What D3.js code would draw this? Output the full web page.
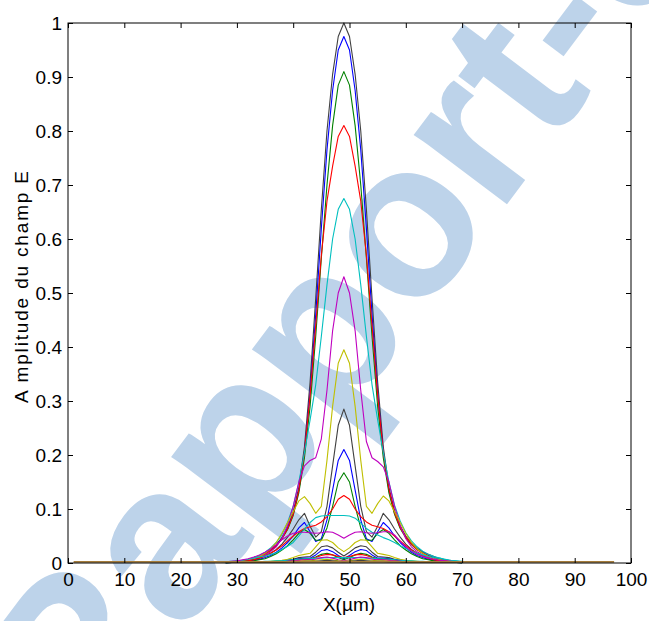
<!DOCTYPE html>
<html><head><meta charset="utf-8">
<script src="https://cdn.jsdelivr.net/npm/d3@7"></script>
<style>
html,body{margin:0;padding:0;background:#fff;}
svg{display:block;}
.lbl{font-family:"Liberation Sans Narrow","Arial Narrow","Liberation Sans",Arial,sans-serif;font-size:19px;fill:#000;}
</style></head>
<body><svg id="c" width="649" height="621"></svg>
<script>
// ---- data ----
const X = [28,29,30,31,32,33,34,35,36,37,38,39,40,41,42,43,44,45,46,47,48,49,50,51,52,53,54,55,56,57,58,59,60,61,62,63,64,65,66,67,68,69,70];
const xTicks = [0,10,20,30,40,50,60,70,80,90,100];
const yTicks = [0,0.1,0.2,0.3,0.4,0.5,0.6,0.7,0.8,0.9,1];
const yTickLabels = ["0","0.1","0.2","0.3","0.4","0.5","0.6","0.7","0.8","0.9","1"];
const s01 = [0.001,0.002,0.003,0.004,0.006,0.009,0.013,0.018,0.025,0.034,0.047,0.066,0.095,0.14,0.215,0.335,0.49,0.655,0.80,0.905,0.975,1.000,0.975,0.905,0.80,0.655,0.49,0.335,0.215,0.14,0.097,0.069,0.05,0.037,0.028,0.021,0.016,0.012,0.008,0.006,0.004,0.003,0.002];
const s02 = [0.001,0.002,0.003,0.004,0.006,0.008,0.012,0.017,0.024,0.033,0.046,0.064,0.092,0.135,0.205,0.315,0.46,0.62,0.765,0.875,0.95,0.975,0.95,0.875,0.765,0.62,0.46,0.315,0.205,0.135,0.093,0.066,0.048,0.035,0.026,0.019,0.014,0.01,0.007,0.005,0.003,0.002,0.001];
const s03 = [0.001,0.001,0.002,0.004,0.005,0.008,0.012,0.017,0.023,0.032,0.045,0.062,0.088,0.13,0.195,0.29,0.42,0.565,0.70,0.81,0.885,0.91,0.885,0.81,0.70,0.565,0.42,0.29,0.195,0.13,0.09,0.064,0.047,0.034,0.025,0.018,0.013,0.009,0.006,0.004,0.003,0.002,0.001];
const s04 = [0.001,0.001,0.002,0.003,0.005,0.008,0.011,0.016,0.023,0.032,0.045,0.063,0.09,0.135,0.205,0.31,0.44,0.57,0.67,0.735,0.79,0.81,0.79,0.735,0.67,0.57,0.44,0.31,0.205,0.137,0.093,0.066,0.048,0.035,0.025,0.018,0.013,0.009,0.006,0.004,0.003,0.002,0.001];
const s05 = [0.001,0.002,0.003,0.005,0.007,0.01,0.014,0.02,0.028,0.038,0.053,0.075,0.105,0.15,0.205,0.265,0.33,0.42,0.515,0.6,0.655,0.675,0.655,0.6,0.515,0.42,0.33,0.265,0.205,0.15,0.107,0.078,0.056,0.041,0.03,0.022,0.016,0.012,0.009,0.006,0.004,0.003,0.002];
const s06 = [0.001,0.002,0.003,0.004,0.006,0.008,0.011,0.015,0.021,0.03,0.045,0.07,0.105,0.15,0.18,0.19,0.195,0.23,0.32,0.43,0.50,0.53,0.50,0.43,0.32,0.225,0.195,0.188,0.178,0.15,0.105,0.07,0.045,0.03,0.021,0.015,0.011,0.008,0.006,0.004,0.003,0.002,0.001];
const s07 = [0.001,0.002,0.003,0.004,0.006,0.008,0.012,0.018,0.026,0.038,0.055,0.075,0.095,0.115,0.123,0.11,0.092,0.105,0.19,0.29,0.37,0.395,0.37,0.29,0.19,0.105,0.092,0.11,0.124,0.115,0.095,0.075,0.055,0.038,0.026,0.018,0.012,0.008,0.006,0.004,0.003,0.002,0.001];
const s08 = [0.001,0.001,0.002,0.003,0.004,0.006,0.009,0.013,0.018,0.025,0.035,0.048,0.063,0.08,0.092,0.068,0.048,0.058,0.105,0.18,0.255,0.285,0.255,0.18,0.105,0.058,0.048,0.068,0.092,0.08,0.063,0.048,0.035,0.025,0.018,0.013,0.009,0.006,0.004,0.003,0.002,0.001,0.001];
const s09 = [0,0.001,0.001,0.002,0.003,0.005,0.007,0.01,0.014,0.02,0.028,0.038,0.05,0.065,0.075,0.058,0.04,0.045,0.08,0.135,0.19,0.21,0.19,0.135,0.08,0.045,0.04,0.058,0.075,0.065,0.05,0.038,0.028,0.02,0.014,0.01,0.007,0.005,0.003,0.002,0.001,0.001,0];
const s10 = [0,0.001,0.001,0.002,0.003,0.004,0.006,0.008,0.012,0.017,0.024,0.032,0.043,0.055,0.062,0.055,0.042,0.042,0.065,0.105,0.15,0.167,0.15,0.105,0.065,0.042,0.042,0.055,0.062,0.055,0.043,0.032,0.024,0.017,0.012,0.008,0.006,0.004,0.003,0.002,0.001,0.001,0];
const s11 = [0.001,0.001,0.002,0.003,0.004,0.006,0.009,0.013,0.018,0.024,0.032,0.041,0.05,0.058,0.064,0.067,0.07,0.076,0.086,0.1,0.118,0.125,0.118,0.1,0.086,0.076,0.07,0.067,0.064,0.058,0.05,0.041,0.032,0.024,0.018,0.013,0.009,0.006,0.004,0.003,0.002,0.001,0.001];
const s12 = [0.002,0.003,0.004,0.005,0.007,0.009,0.011,0.013,0.016,0.019,0.025,0.031,0.038,0.05,0.063,0.075,0.084,0.087,0.088,0.088,0.088,0.088,0.087,0.083,0.074,0.064,0.057,0.052,0.047,0.043,0.038,0.032,0.027,0.022,0.018,0.015,0.012,0.01,0.009,0.007,0.005,0.004,0.003];
const s13 = [0.002,0.003,0.004,0.006,0.008,0.011,0.015,0.02,0.026,0.034,0.043,0.05,0.055,0.057,0.057,0.056,0.055,0.056,0.058,0.057,0.052,0.046,0.052,0.057,0.058,0.056,0.055,0.056,0.058,0.058,0.052,0.04,0.03,0.022,0.016,0.012,0.009,0.007,0.005,0.004,0.003,0.002,0.001];
const s14 = [0.001,0.001,0.001,0.001,0.001,0.001,0.002,0.002,0.003,0.004,0.005,0.007,0.01,0.014,0.016,0.018,0.03,0.042,0.043,0.038,0.028,0.021,0.028,0.038,0.043,0.042,0.03,0.018,0.016,0.014,0.01,0.007,0.005,0.004,0.003,0.002,0.002,0.001,0.001,0.001,0.001,0.001,0.001];
const s15 = [0.001,0.001,0.001,0.001,0.001,0.001,0.001,0.001,0.002,0.002,0.003,0.005,0.007,0.01,0.011,0.012,0.02,0.03,0.032,0.028,0.02,0.013,0.02,0.028,0.032,0.03,0.02,0.012,0.011,0.01,0.007,0.005,0.003,0.002,0.002,0.001,0.001,0.001,0.001,0.001,0.001,0.001,0.001];
const s16 = [0.001,0.001,0.001,0.001,0.001,0.001,0.001,0.001,0.001,0.002,0.003,0.004,0.006,0.008,0.009,0.009,0.015,0.023,0.025,0.021,0.014,0.008,0.014,0.021,0.025,0.023,0.015,0.009,0.009,0.008,0.006,0.004,0.003,0.002,0.001,0.001,0.001,0.001,0.001,0.001,0.001,0.001,0.001];
const s17 = [0.001,0.001,0.001,0.001,0.001,0.001,0.001,0.001,0.001,0.001,0.002,0.003,0.005,0.007,0.008,0.008,0.011,0.016,0.018,0.015,0.01,0.006,0.01,0.015,0.018,0.016,0.011,0.008,0.008,0.007,0.005,0.003,0.002,0.001,0.001,0.001,0.001,0.001,0.001,0.001,0.001,0.001,0.001];
const s18 = [0.001,0.001,0.001,0.001,0.001,0.001,0.001,0.001,0.001,0.001,0.002,0.003,0.004,0.005,0.006,0.007,0.01,0.014,0.016,0.015,0.012,0.01,0.012,0.015,0.016,0.014,0.01,0.007,0.006,0.005,0.004,0.003,0.002,0.001,0.001,0.001,0.001,0.001,0.001,0.001,0.001,0.001,0.001];
const s19 = [0.001,0.001,0.001,0.001,0.002,0.002,0.002,0.003,0.003,0.004,0.004,0.005,0.006,0.007,0.008,0.008,0.009,0.009,0.01,0.01,0.01,0.01,0.01,0.01,0.01,0.009,0.009,0.008,0.008,0.007,0.006,0.005,0.004,0.004,0.003,0.003,0.002,0.002,0.002,0.001,0.001,0.001,0.001];
const s20 = [0.001,0.001,0.001,0.001,0.001,0.001,0.001,0.001,0.001,0.001,0.002,0.003,0.004,0.005,0.006,0.006,0.007,0.01,0.011,0.009,0.006,0.004,0.006,0.009,0.011,0.01,0.007,0.006,0.006,0.005,0.004,0.003,0.002,0.001,0.001,0.001,0.001,0.001,0.001,0.001,0.001,0.001,0.001];
const s21 = [0.001,0.001,0.001,0.001,0.001,0.001,0.001,0.001,0.001,0.001,0.002,0.002,0.003,0.003,0.004,0.004,0.005,0.006,0.007,0.006,0.004,0.003,0.004,0.006,0.007,0.006,0.005,0.004,0.004,0.003,0.003,0.002,0.002,0.001,0.001,0.001,0.001,0.001,0.001,0.001,0.001,0.001,0.001];
const s22 = [0.001,0.001,0.001,0.001,0.001,0.001,0.001,0.001,0.001,0.001,0.001,0.002,0.002,0.002,0.003,0.003,0.003,0.004,0.005,0.004,0.003,0.002,0.003,0.004,0.005,0.004,0.003,0.003,0.003,0.002,0.002,0.002,0.001,0.001,0.001,0.001,0.001,0.001,0.001,0.001,0.001,0.001,0.001];
const baseX = [1,97];
const baseY = [0.002,0.002];

// ---- styles ----
const K="#404040",B="#0000ff",G="#008000",R="#ff0000",C="#00bfbf",M="#bf00bf",Y="#bfbf00";
const series = [s01,s02,s03,s04,s05,s06,s07,s08,s09,s10,s11,s12,s13,s14,s15,s16,s17,s18,s19,s20,s21,s22];
const colors = [K,B,G,R,C,M,Y,K,B,G,R,C,M,Y,K,B,G,R,C,M,Y,K];

const svg = d3.select("#c");
// watermark (behind)
svg.append("text").text("Rapport-gratuit")
  .attr("transform","translate(86,763) rotate(-53)")
  .attr("font-family","'Liberation Sans',Arial,sans-serif")
  .attr("font-weight","bold").attr("font-size",220)
  .attr("fill","#bdd3ea");

const xs = d3.scaleLinear().domain([0,100]).range([68,631]);
const ys = d3.scaleLinear().domain([0,1]).range([563,23]);

const line = d3.line().x((d,i)=>xs(X[i])).y(d=>ys(d));
const gl = svg.append("g");
series.forEach((s,k)=>{
  gl.append("path").attr("d",line(s)).attr("fill","none")
   .attr("stroke",colors[k]).attr("stroke-width",1.1).attr("stroke-linejoin","round");
});
gl.append("path").attr("d",d3.line().x((d,i)=>xs(baseX[i])).y(d=>ys(d))(baseY))
  .attr("fill","none").attr("stroke","#a57c3a").attr("stroke-width",1.6);

// axes
const ax = svg.append("g");
ax.append("g").attr("transform","translate(0,563)")
  .call(d3.axisBottom(xs).tickValues(xTicks).tickSizeInner(-5).tickSizeOuter(0).tickPadding(10).tickFormat(d3.format("d")));
ax.append("g").attr("transform","translate(68,0)")
  .call(d3.axisLeft(ys).tickValues(yTicks).tickSizeInner(-5).tickSizeOuter(0).tickPadding(6).tickFormat((d,i)=>yTickLabels[i]));
ax.append("g").attr("transform","translate(0,23)")
  .call(d3.axisTop(xs).tickValues(xTicks).tickSizeInner(-5).tickSizeOuter(0).tickFormat(""));
ax.append("g").attr("transform","translate(631,0)")
  .call(d3.axisRight(ys).tickValues(yTicks).tickSizeInner(-5).tickSizeOuter(0).tickFormat(""));
ax.selectAll(".domain").remove();
ax.selectAll(".tick line").attr("stroke","#000");
ax.selectAll(".tick text").attr("class","lbl").attr("font-size",null).attr("font-family",null);
ax.selectAll("g").attr("font-size",null).attr("font-family",null);
ax.append("rect").attr("x",68).attr("y",23).attr("width",563).attr("height",540)
  .attr("fill","none").attr("stroke","#000").attr("stroke-width",1);

svg.append("text").attr("class","lbl").attr("x",349).attr("y",611)
  .attr("text-anchor","middle").text("X(µm)");
svg.append("text").attr("class","lbl")
  .attr("transform","translate(28,287) rotate(-90)")
  .attr("text-anchor","middle").attr("textLength",232).attr("lengthAdjust","spacing")
  .text("A mplitude du champ E");
</script></body></html>
